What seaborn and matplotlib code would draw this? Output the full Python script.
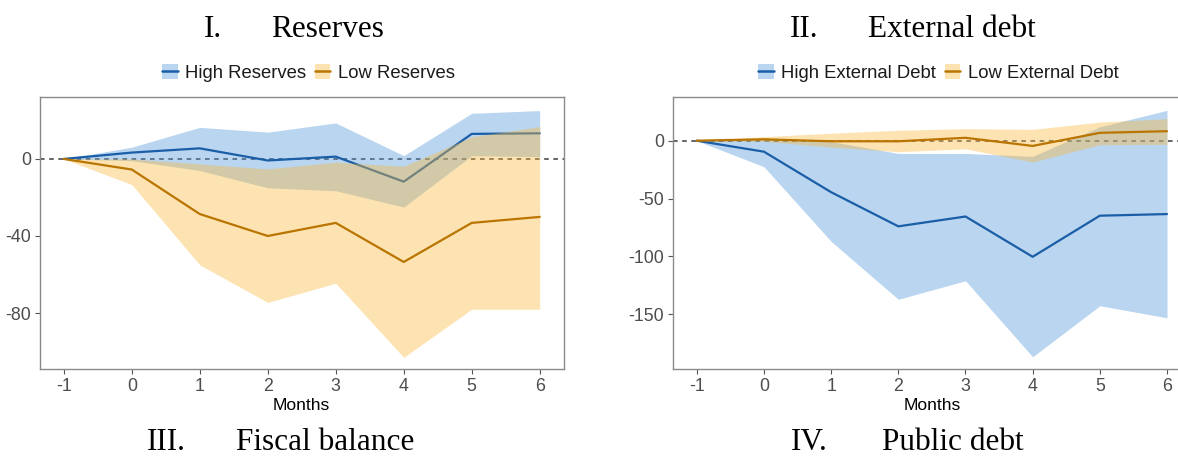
import matplotlib
matplotlib.use("Agg")
import matplotlib.pyplot as plt
import seaborn as sns
import pandas as pd
from matplotlib.patches import Patch
from matplotlib.lines import Line2D
from matplotlib.legend_handler import HandlerTuple

# ---------------- data ----------------
months = [-1, 0, 1, 2, 3, 4, 5, 6]

res_high_mean = [0, 3.3, 5.5, -0.8, 1.2, -11.8, 13.0, 13.3]
res_high_lo = [0, -0.9, -6.0, -15.0, -16.5, -25.0, 1.7, 1.2]
res_high_hi = [0, 6.1, 16.4, 13.9, 18.7, 1.7, 23.7, 25.1]
res_low_mean = [0, -5.5, -28.6, -40.0, -33.2, -53.5, -33.2, -30.1]
res_low_lo = [0, -13.3, -55.0, -74.5, -64.5, -103.0, -78.0, -78.0]
res_low_hi = [0, 0.0, -2.6, -5.2, -1.7, -3.8, 11.5, 16.8]

ext_high_mean = [0, -9.5, -44.5, -74.0, -65.5, -100.3, -64.8, -63.4]
ext_high_lo = [0, -22.5, -87.0, -137.0, -121.0, -186.7, -142.6, -153.0]
ext_high_hi = [0, 1.5, -0.8, -11.0, -11.0, -13.5, 12.0, 26.2]
ext_low_mean = [0, 1.2, -0.5, -0.5, 2.5, -4.5, 6.8, 8.2]
ext_low_lo = [0, -0.5, -5.5, -9.5, -7.0, -18.4, -3.5, -3.2]
ext_low_hi = [0, 3.5, 6.5, 9.0, 10.4, 9.8, 16.1, 19.0]

res_labels = ["High Reserves", "Low Reserves"]
ext_labels = ["High External Debt", "Low External Debt"]
res_yticks = [0, -40, -80]
ext_yticks = [0, -50, -100, -150]

# ---------------- style ----------------
sns.set_theme(style="white")
plt.rcParams["font.family"] = ["Liberation Sans", "DejaVu Sans"]

W, H = 1178, 458
fig = plt.figure(figsize=(W / 100, H / 100), dpi=100)

BLUE_LINE = "#1B5EA8"
ORANGE_LINE = "#B97500"
BLUE_FILL = "#5096D9"
ORANGE_FILL = "#FAB93E"
ALPHA = 0.4
BLUE_KEY = "#B9D5F0"
ORANGE_KEY = "#FDE3B2"


def fx(px):
    return px / W


def fy(py):
    return 1 - py / H


def make_panel(rect, hi_mean, hi_lo, hi_hi, lo_mean, lo_lo, lo_hi, ylim, yticks, labels, leg_cx):
    ax = fig.add_axes(rect)
    ax.axhline(0, color="#3a3a3a", lw=1.1, ls=(0, (3, 3)), zorder=0.5)
    df_hi = pd.DataFrame({"Months": months, "v": hi_mean})
    df_lo = pd.DataFrame({"Months": months, "v": lo_mean})
    ax.fill_between(months, hi_lo, hi_hi, color=BLUE_FILL, alpha=ALPHA, lw=0, zorder=1)
    sns.lineplot(data=df_hi, x="Months", y="v", color=BLUE_LINE, lw=1.6, ax=ax, zorder=2)
    ax.fill_between(months, lo_lo, lo_hi, color=ORANGE_FILL, alpha=ALPHA, lw=0, zorder=3)
    sns.lineplot(data=df_lo, x="Months", y="v", color=ORANGE_LINE, lw=1.6, ax=ax, zorder=4)
    ax.set_xlim(-1.35, 6.35)
    ax.set_ylim(*ylim)
    ax.set_xticks(months)
    ax.set_xticklabels([str(m) for m in months])
    ax.set_yticks(yticks)
    ax.set_yticklabels([str(t) for t in yticks])
    ax.set_ylabel("")
    ax.set_xlabel("Months", fontsize=12.6, color="black", labelpad=2)
    ax.tick_params(axis="both", which="both", length=3.5, width=0.8, color="#555555",
                   labelsize=12.8, labelcolor="#4D4D4D", pad=3,
                   bottom=True, left=True)
    for s in ax.spines.values():
        s.set_color("#8a8a8a")
        s.set_linewidth(1.0)
        s.set_visible(True)
    ax.grid(False)
    handles = [
        (Patch(facecolor=BLUE_KEY, edgecolor="none"), Line2D([], [], color=BLUE_LINE, lw=1.8)),
        (Patch(facecolor=ORANGE_KEY, edgecolor="none"), Line2D([], [], color=ORANGE_LINE, lw=1.8)),
    ]
    leg = ax.legend(handles, labels, handler_map={tuple: HandlerTuple(ndivide=1, pad=0)},
                    ncol=2, frameon=False, loc="center",
                    bbox_to_anchor=(fx(leg_cx), fy(73)), bbox_transform=fig.transFigure,
                    fontsize=13.3, handlelength=0.85, handleheight=0.85,
                    handletextpad=0.4, columnspacing=0.45, borderpad=0, borderaxespad=0)
    for t in leg.get_texts():
        t.set_color("#1a1a1a")
    return ax


ax_top, ax_bot = 97.3, 368.7
rect_l = [fx(40), fy(ax_bot), (563.5 - 40) / W, (ax_bot - ax_top) / H]
rect_r = [fx(673.3), fy(ax_bot), (1190.5 - 673.3) / W, (ax_bot - ax_top) / H]

make_panel(rect_l, res_high_mean, res_high_lo, res_high_hi,
           res_low_mean, res_low_lo, res_low_hi,
           (-108.9, 32.0), res_yticks, res_labels, 308.4)
make_panel(rect_r, ext_high_mean, ext_high_lo, ext_high_hi,
           ext_low_mean, ext_low_lo, ext_low_hi,
           (-197.0, 37.5), ext_yticks, ext_labels, 938.4)

serif = ["Liberation Serif", "DejaVu Serif"]
TS = 22.5
for x, y, s in [(204, 37, "I."), (271, 37, "Reserves"),
                (790, 37, "II."), (868, 37, "External debt"),
                (147, 450, "III."), (236, 450, "Fiscal balance"),
                (791, 450, "IV."), (882, 450, "Public debt")]:
    fig.text(fx(x), fy(y), s, family=serif, fontsize=TS, color="black",
             ha="left", va="baseline")

fig.savefig("out.png", dpi=100)
